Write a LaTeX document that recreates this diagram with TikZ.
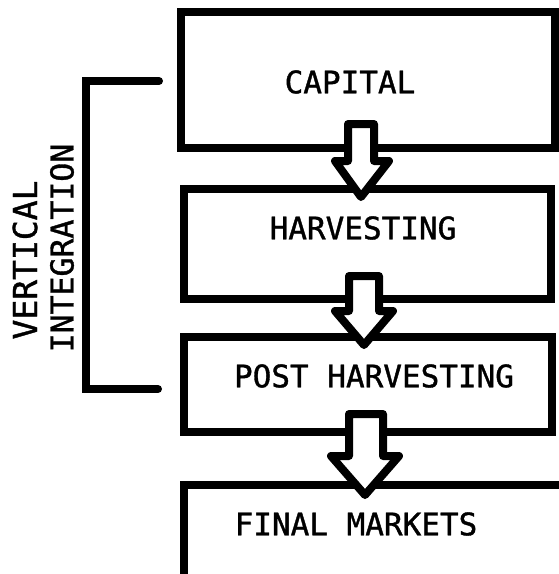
\documentclass[tikz,border=0pt]{standalone}
\usepackage{fontspec}
\setmonofont[FakeBold=1.2]{DejaVu Sans Mono}

\begin{document}
\begin{tikzpicture}[x=1pt, y=-1pt]
    \tikzstyle{stage} = [rectangle, draw=black, line width=8pt, inner sep=0pt]
    \tikzstyle{stagetext} = [inner sep=0pt, font=\fontsize{31}{31}\selectfont\ttfamily]
    \tikzstyle{flow} = [draw=black, fill=white, line width=8pt, line join=round]
    \tikzstyle{bracket} = [draw=black, line width=8pt, line cap=round]

    \clip (0,0) rectangle (559,574);

    % stages
    \node (capital) [stage, minimum width=374pt, minimum height=136pt] at (368,80) {};
    \node (harvest) [stage, minimum width=367pt, minimum height=110pt] at (367.5,244) {};
    \node (post)    [stage, minimum width=368pt, minimum height=95pt]  at (368,384.5) {};
    \node (market)  [stage, minimum width=386pt, minimum height=92.5pt] at (377,531.25) {};

    % block arrows between the stages
    \draw[flow] (348,124) -- (374,124) -- (374,161) -- (389,161) -- (361,197)
                -- (335,161) -- (348,161) -- cycle;
    \draw[flow] (349,276) -- (379,276) -- (379,311) -- (393,311) -- (364,345)
                -- (335,311) -- (349,311) -- cycle;
    \draw[flow] (349,414) -- (383,414) -- (383,456) -- (399,456) -- (365,495)
                -- (331,456) -- (349,456) -- cycle;

    \node (capitaltxt) [stagetext] at (350,82)  {CAPITAL};
    \node (harvesttxt) [stagetext] at (363,228) {HARVESTING};
    \node (posttxt)    [stagetext] at (374,376) {POST HARVESTING};
    \node (markettxt)  [stagetext] at (356,524) {FINAL MARKETS};

    % vertical integration bracket
    \coordinate (brtop) at (159,81);
    \coordinate (brbot) at (158,389);
    \draw[bracket] (brtop) -- (86,81) -- (86,389) -- (brbot);
    \node (vert)  [inner sep=0pt, rotate=90, font=\fontsize{33}{33}\selectfont\ttfamily] at (25,260) {VERTICAL};
    \node (integ) [inner sep=0pt, rotate=90, font=\fontsize{31.5}{31.5}\selectfont\ttfamily] at (62,248) {INTEGRATION};
\end{tikzpicture}
\end{document}
